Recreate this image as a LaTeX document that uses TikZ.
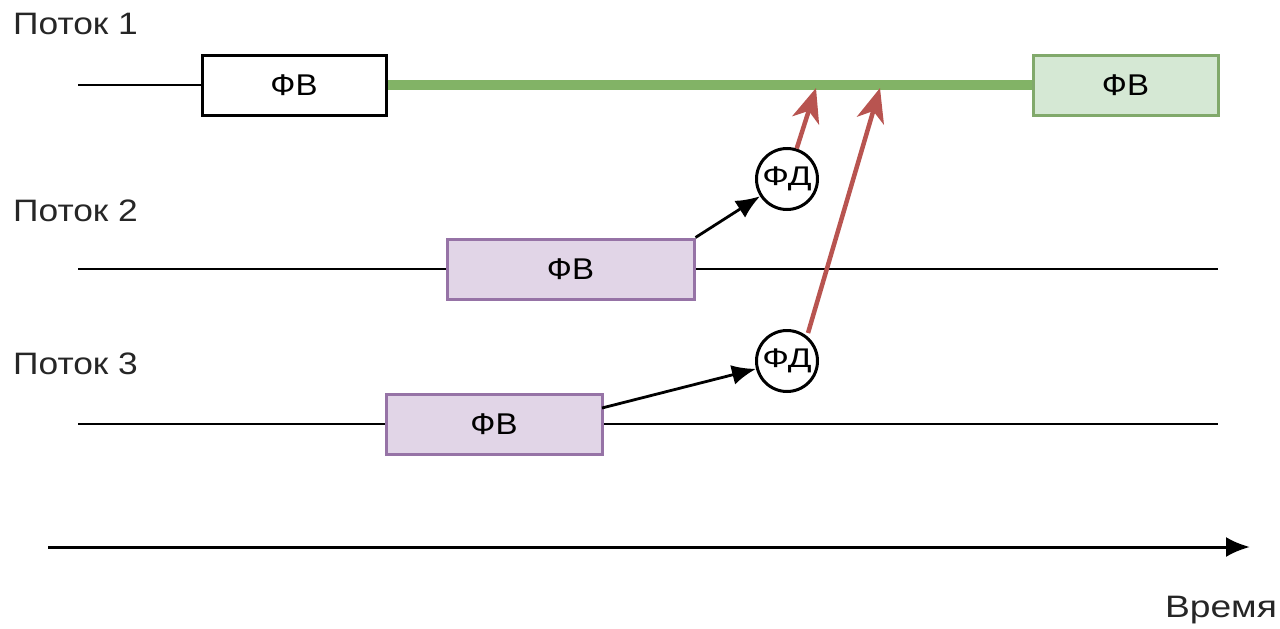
\documentclass[tikz,border=0pt]{standalone}
\usepackage{fontspec}
\usepackage{graphicx}
\setmainfont{Liberation Sans}
\usetikzlibrary{arrows.meta}
\definecolor{grline}{HTML}{82B366}
\definecolor{grfill}{HTML}{D5E8D4}
\definecolor{puline}{HTML}{9673A6}
\definecolor{pufill}{HTML}{E1D5E7}
\definecolor{redline}{HTML}{B85450}
\newcommand{\wtxt}[1]{\scalebox{1.14}[1]{#1}}
\newcommand{\ftxt}[1]{\scalebox{1.1}[1]{#1}}
\tikzset{
  lbl/.style={font=\fontsize{31}{34}\selectfont, inner sep=0pt, text=black!85},
  fvbox/.style={draw, line width=3pt, minimum height=60pt, font=\fontsize{30}{34}\selectfont, inner sep=0pt},
  fdnode/.style={circle, draw, line width=3pt, fill=white, minimum size=61pt, inner sep=0pt, font=\fontsize{27}{30}\selectfont},
  thin/.style={line width=2.8pt},
  blk/.style={line width=2.8pt, -{Latex[length=24pt,width=20pt]}},
  redarr/.style={redline, line width=4.5pt, -{Stealth[length=34pt,width=28pt,inset=10pt]}},
}
\begin{document}
\begin{tikzpicture}[x=1pt,y=-1pt]
\useasboundingbox (0,0) rectangle (1280,629);
% labels
\node[lbl, anchor=west] (p1) at (13,24) {\wtxt{Поток 1}};
\node[lbl, anchor=west] (p2) at (13,211) {\wtxt{Поток 2}};
\node[lbl, anchor=west] (p3) at (13,364) {\wtxt{Поток 3}};
\node[lbl] (vr) at (1221,610) {\scalebox{1.2}[1]{Время}};
% thread 1
\coordinate (l1s) at (78,85);
\node[fvbox, fill=white, minimum width=184pt] (b1) at (294,85) {\ftxt{ФВ}};
\node[fvbox, fill=grfill, draw=grline!80!gray, minimum width=185pt] (b1g) at (1125.5,85) {\ftxt{ФВ}};
\draw[thin] (l1s) -- (b1.west);
\draw[grline, line width=10pt] (b1.east) -- (b1g.west);
% thread 2
\coordinate (l2s) at (78,269);
\coordinate (l2e) at (1218,269);
\draw[thin] (l2s) -- (l2e);
\node[fvbox, fill=pufill, draw=puline, minimum width=247pt] (b2) at (570.5,269) {\ftxt{ФВ}};
% thread 3
\coordinate (l3s) at (78,424);
\coordinate (l3e) at (1218,424);
\draw[thin] (l3s) -- (l3e);
\node[fvbox, fill=pufill, draw=puline, minimum width=216pt] (b3) at (494,424) {\ftxt{ФВ}};
% ФД circles
\node[fdnode] (fd1) at (787,179) {\scalebox{1.3}[1]{ФД}};
\node[fdnode] (fd2) at (787,361) {\scalebox{1.3}[1]{ФД}};
\coordinate (b3o) at (602,408);
\draw[blk] (b2.north east) -- (fd1);
\draw[blk] (b3o) -- (fd2);
% red arrows
\coordinate (t1) at (816,88);
\coordinate (t2) at (880,88);
\coordinate (s2) at (808,333);
\draw[redarr] (fd1) -- (t1);
\draw[redarr] (s2) -- (t2);
% time axis
\coordinate (ax1) at (48,547);
\coordinate (ax2) at (1250,547);
\draw[line width=3pt, -{Latex[length=24pt,width=20pt]}] (ax1) -- (ax2);
\end{tikzpicture}
\end{document}
